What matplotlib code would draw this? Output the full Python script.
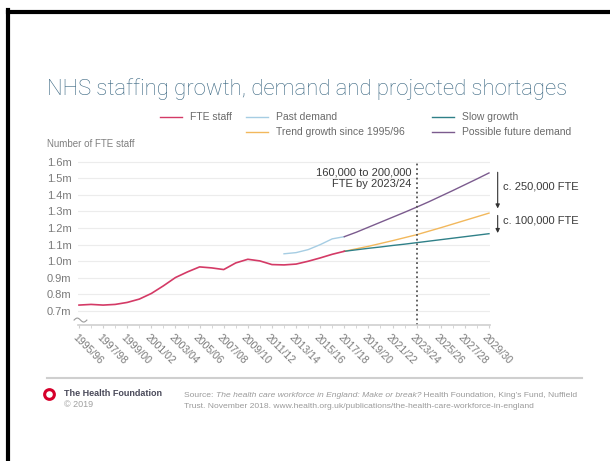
import numpy as np
import matplotlib.pyplot as plt
import matplotlib.transforms as mtransforms
from matplotlib.lines import Line2D

plt.rcParams['font.family'] = ['Liberation Sans', 'DejaVu Sans']

# values in millions of FTE staff, x = first year of the financial year
fte_years = list(range(1995, 2018))
fte_staff = [0.736, 0.740, 0.736, 0.740, 0.752, 0.772, 0.806, 0.852, 0.902, 0.936,
             0.966, 0.960, 0.950, 0.990, 1.012, 1.002, 0.980, 0.978, 0.983, 1.000,
             1.020, 1.042, 1.060]

past_years = list(range(2012, 2018))
past_demand = [1.045, 1.052, 1.070, 1.100, 1.135, 1.148]

proj_years = list(range(2017, 2030))
future_demand = [1.148, 1.175, 1.205, 1.235, 1.265, 1.295, 1.326, 1.358, 1.392,
                 1.426, 1.461, 1.496, 1.532]
trend_growth = [1.060, 1.075, 1.090, 1.107, 1.124, 1.142, 1.160, 1.181, 1.202,
                1.224, 1.246, 1.268, 1.290]
slow_growth = [1.060, 1.069, 1.078, 1.086, 1.095, 1.103, 1.112, 1.121, 1.130,
               1.139, 1.148, 1.157, 1.166]

tick_years = list(range(1995, 2030, 2))
tick_labels = [f"{y}/{str(y + 1)[-2:]}" for y in tick_years]
y_ticks = [0.7, 0.8, 0.9, 1.0, 1.1, 1.2, 1.3, 1.4, 1.5, 1.6]
y_labels = ['0.7m', '0.8m', '0.9m', '1.0m', '1.1m', '1.2m', '1.3m', '1.4m', '1.5m', '1.6m']

c_fte = '#d43a66'
c_past = '#a6cde3'
c_trend = '#f2b85c'
c_slow = '#2f8088'
c_future = '#7b5b8e'

W, H = 610, 461
fig = plt.figure(figsize=(W / 100, H / 100), dpi=100)

def fx(px):
    return px / W

def fy(py):
    return 1 - py / H

ax = fig.add_axes([fx(77.8), fy(325), 412.4 / W, 165 / H])
ax.set_xlim(1994.9, 2029.1)
ax.set_ylim(0.616, 1.61)

ax.plot(past_years, past_demand, color=c_past, lw=1)
ax.plot(proj_years, future_demand, color=c_future, lw=1)
ax.plot(proj_years, trend_growth, color=c_trend, lw=1)
ax.plot(proj_years, slow_growth, color=c_slow, lw=1)
ax.plot(fte_years, fte_staff, color=c_fte, lw=1.2)

for s in ['top', 'right', 'left']:
    ax.spines[s].set_visible(False)
ax.spines['bottom'].set_color('#cfcfcf')
ax.spines['bottom'].set_linewidth(1.2)

ax.set_yticks(y_ticks)
ax.set_yticklabels(y_labels)
ax.grid(axis='y', color='#ececec', lw=0.8)
ax.tick_params(axis='y', length=0, pad=4.5, labelsize=8, labelcolor='#7a7a7a')

ax.set_xticks(tick_years)
ax.set_xticks(range(1995, 2030), minor=True)
ax.set_xticklabels(tick_labels, rotation=-45, ha='left', va='center',
                   rotation_mode='anchor')
ax.tick_params(axis='x', which='both', length=2.5, color='#d0d0d0', pad=5,
               labelsize=7.5, labelcolor='#7a7a7a')
shift = mtransforms.ScaledTranslation(-5 / 100, 0, fig.dpi_scale_trans)
for lab in ax.get_xticklabels():
    lab.set_transform(lab.get_transform() + shift)

# projection marker at 2023/24
ax.plot([2023, 2023], [0.616, 1.6], color='#555555', lw=1.3, ls=(0, (1, 1.6)))
ax.text(2022.6, 1.5, '160,000 to 200,000\nFTE by 2023/24', ha='right', va='center',
        multialignment='right', fontsize=8, color='#3a3a3a', linespacing=1.15)

# shortage arrows
arrow = dict(arrowstyle='-|>', color='#333333', lw=0.8, mutation_scale=6,
             shrinkA=0, shrinkB=0)
ax.annotate('', xy=(2029.72, 1.318), xytext=(2029.72, 1.536), arrowprops=arrow,
            annotation_clip=False)
ax.annotate('', xy=(2029.72, 1.17), xytext=(2029.72, 1.276), arrowprops=arrow,
            annotation_clip=False)
ax.text(2030.16, 1.449, 'c. 250,000 FTE', va='center', fontsize=8, color='#3a3a3a',
        clip_on=False)
ax.text(2030.16, 1.244, 'c. 100,000 FTE', va='center', fontsize=8, color='#3a3a3a',
        clip_on=False)

# axis break squiggle
t = np.linspace(0, 1, 40)
ax.plot(-0.009 + 0.031 * t, 0.03 + 0.012 * np.sin(2 * np.pi * t), transform=ax.transAxes,
        color='#9a9a9a', lw=0.8, clip_on=False)

# title, legend, axis label
fig.text(fx(47), fy(89), 'NHS staffing growth, demand and projected shortages',
         fontsize=15.9, color='#386580', va='center', family=['Roboto', 'DejaVu Sans'],
         fontweight='light')

legend = [(160, 117, c_fte, 'FTE staff'),
          (246, 117, c_past, 'Past demand'),
          (246, 132, c_trend, 'Trend growth since 1995/96'),
          (432, 117, c_slow, 'Slow growth'),
          (432, 132, c_future, 'Possible future demand')]
for x0, y0, c, lab in legend:
    fig.add_artist(Line2D([fx(x0), fx(x0 + 22)], [fy(y0), fy(y0)], color=c, lw=1))
    fig.text(fx(x0 + 30), fy(y0), lab, fontsize=7.5, color='#6a6a6a', va='center')

fig.text(fx(47), fy(144), 'Number of FTE staff', fontsize=7, color='#808080', va='center')

# footer
fig.add_artist(Line2D([fx(47), fx(582)], [fy(378), fy(378)], color='#cfcfcf', lw=1.5))
fig.add_artist(Line2D([fx(48.5)], [fy(394)], marker='o', ms=7, mfc='white',
                      mec='#d6002b', mew=2.2))
fig.text(fx(64), fy(393), 'The Health Foundation', fontsize=6.5, color='#4a4a5a',
         fontweight='bold', va='center')
fig.text(fx(64), fy(404), '\u00a9 2019', fontsize=6.5, color='#a0a0a0', va='center')

src_kw = dict(fontsize=6.1, color='#9a9a9a')
s1 = fig.text(fx(184), fy(397), 'Source: ', va='baseline', **src_kw)
s2 = ax.annotate('The health care workforce in England: Make or break?', xy=(1, 0),
                 xycoords=s1, va='bottom', style='italic', annotation_clip=False, **src_kw)
ax.annotate(' Health Foundation, King\u2019s Fund, Nuffield', xy=(1, 0), xycoords=s2,
            va='bottom', annotation_clip=False, **src_kw)
fig.text(fx(184), fy(408),
         'Trust. November 2018. www.health.org.uk/publications/the-health-care-workforce-in-england',
         va='baseline', **src_kw)

# black frame along top and left edge of the screenshot
fig.add_artist(Line2D([fx(8), fx(610)], [fy(12), fy(12)], color='black', lw=3))
fig.add_artist(Line2D([fx(8), fx(8)], [fy(10.5), fy(461)], color='black', lw=3))

fig.savefig('out.png', dpi=100)
